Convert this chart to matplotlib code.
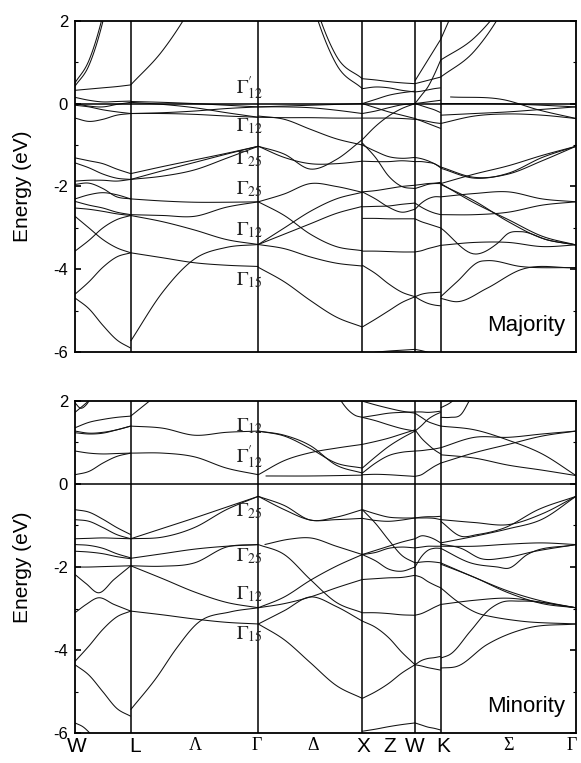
import numpy as np
import matplotlib
matplotlib.use("Agg")
import matplotlib.pyplot as plt
from matplotlib.ticker import MultipleLocator

plt.rcParams['font.family'] = ['Liberation Sans', 'DejaVu Sans']
plt.rcParams['mathtext.fontset'] = 'stix'
plt.rcParams['axes.unicode_minus'] = False

# ---------------- data ----------------
k_nodes = [0.0, 0.557, 1.833, 2.873, 3.400, 3.657, 5.010]
x_labels = ["W", "L", "Λ", "Γ", "Δ", "X", "Z", "W", "K", "Σ", "Γ"]
x_label_pos = [0.02, 0.60, 1.20, 1.817, 2.38, 2.88, 3.15, 3.40, 3.68, 4.33, 4.97]
greek = {"Λ", "Γ", "Δ", "Σ"}

# Each band: energies (eV) at evenly spaced points along a segment,
# or (fractions, energies) when read at uneven points.
maj_WL = [
    [0.50, 1.04, 2.13, 3.75, 5.90],
    [0.42, 0.92, 1.98, 3.60, 5.70],
    [0.32, 0.35, 0.38, 0.41, 0.45],
    [0.15, 0.08, 0.04, 0.05, 0.06],
    [0.00, -0.06, -0.08, -0.02, 0.03],
    [-0.04, -0.08, -0.15, -0.20, -0.24],
    [-0.35, -0.43, -0.38, -0.28, -0.24],
    [-1.31, -1.38, -1.45, -1.58, -1.69],
    [-1.43, -1.55, -1.70, -1.80, -1.83],
    [-1.87, -1.85, -1.85, -1.87, -1.83],
    [-1.95, -1.92, -2.05, -2.25, -2.30],
    [-2.30, -2.20, -2.15, -2.20, -2.30],
    [-2.36, -2.45, -2.52, -2.62, -2.68],
    [-2.52, -2.55, -2.60, -2.66, -2.70],
    [-2.72, -3.00, -3.28, -3.48, -3.60],
    [-3.56, -3.30, -3.00, -2.80, -2.70],
    [-4.60, -4.30, -3.95, -3.70, -3.60],
    [-4.69, -4.95, -5.35, -5.70, -5.90],
]
maj_LG = [
    [0.45, 1.28, 2.47, 4.05, 6.00],
    [0.05, 0.03, 0.00, -0.04, -0.08],
    [0.03, -0.02, -0.10, -0.22, -0.33],
    [-0.24, -0.24, -0.26, -0.30, -0.33],
    [-0.24, -0.22, -0.18, -0.12, -0.08],
    [-1.69, -1.52, -1.36, -1.20, -1.03],
    [-1.83, -1.62, -1.42, -1.22, -1.03],
    [-1.83, -1.75, -1.60, -1.32, -1.03],
    [-2.30, -2.35, -2.38, -2.38, -2.37],
    [-2.68, -2.70, -2.72, -2.50, -2.37],
    [-2.70, -2.85, -3.05, -3.28, -3.40],
    [-3.60, -3.72, -3.84, -3.90, -3.93],
    [-5.73, -4.55, -3.75, -3.47, -3.40],
]
maj_GX = [
    [9.40, 5.55, 2.80, 1.15, 0.60],
    [9.20, 5.30, 2.60, 0.95, 0.36],
    [-0.08, -0.06, -0.04, -0.02, 0.00],
    [-0.08, -0.08, -0.10, -0.16, -0.24],
    [-0.33, -0.34, -0.34, -0.35, -0.35],
    [-0.30, -0.38, -0.62, -0.85, -1.00],
    [-1.03, -1.22, -1.58, -1.35, -0.87],
    [-1.03, -1.30, -1.45, -1.45, -1.39],
    [-2.37, -2.18, -1.93, -2.00, -2.14],
    [-2.37, -2.70, -3.15, -3.45, -3.55],
    [-3.40, -3.15, -2.90, -2.65, -2.48],
    [-3.40, -3.00, -2.60, -2.30, -2.14],
    [-3.40, -3.50, -3.70, -3.85, -3.92],
    [-3.95, -4.30, -4.75, -5.15, -5.39],
]
maj_XW = [
    [0.60, 0.57, 0.53, 0.50, 0.48],
    [0.36, 0.40, 0.38, 0.32, 0.28],
    [0.00, 0.10, 0.20, 0.26, 0.30],
    [-0.24, -0.18, -0.10, -0.03, 0.00],
    [-0.87, -0.55, -0.30, -0.12, 0.00],
    [0.00, -0.10, -0.20, -0.28, -0.36],
    [-0.35, -0.35, -0.35, -0.36, -0.38],
    [-1.00, -1.15, -1.28, -1.32, -1.30],
    [-1.39, -1.40, -1.40, -1.38, -1.40],
    [-0.95, -1.30, -1.75, -2.00, -2.05],
    [-2.13, -2.10, -2.05, -2.00, -1.97],
    [-2.13, -2.30, -2.50, -2.62, -2.55],
    [-2.49, -2.48, -2.47, -2.43, -2.40],
    [-2.77, -2.77, -2.78, -2.78, -2.78],
    [-3.56, -3.56, -3.57, -3.58, -3.58],
    [-3.90, -4.10, -4.35, -4.55, -4.66],
    [-5.39, -5.20, -5.00, -4.80, -4.66],
    [-6.05, -6.00, -5.97, -5.95, -5.93],
]
maj_WK = [
    [0.48, 0.52, 0.56, 0.60, 0.64],
    [0.28, 0.30, 0.33, 0.36, 0.38],
    [0.55, 0.80, 1.05, 1.30, 1.55],
    [0.00, 0.20, 0.40, 0.70, 1.05],
    [0.00, 0.02, 0.04, 0.06, 0.08],
    [0.00, -0.05, -0.10, -0.15, -0.22],
    [-0.36, -0.42, -0.48, -0.54, -0.60],
    [-0.38, -0.40, -0.43, -0.46, -0.48],
    [-1.30, -1.33, -1.38, -1.45, -1.53],
    [-1.40, -1.40, -1.42, -1.45, -1.55],
    [-2.05, -2.00, -1.95, -1.93, -1.93],
    [-1.97, -1.95, -1.93, -1.92, -1.90],
    [-2.55, -2.40, -2.30, -2.25, -2.25],
    [-2.40, -2.50, -2.58, -2.64, -2.68],
    [-2.78, -2.85, -2.90, -2.95, -3.00],
    [-3.58, -3.55, -3.50, -3.46, -3.42],
    [-4.66, -4.75, -4.82, -4.86, -4.88],
    [-4.66, -4.60, -4.57, -4.56, -4.55],
    [-5.93, -5.96, -6.00, -6.05, -6.10],
]
maj_KG = [
    [1.55, 3.40, 5.30, 7.20, 9.10],
    [1.05, 1.59, 2.57, 3.98, 5.83],
    [0.64, 1.27, 2.50, 4.40, 6.90],
    ([0.07, 0.47, 0.72, 1.0], [0.16, 0.09, -0.15, -0.36]),
    [0.00, 0.00, -0.01, -0.04, -0.08],
    [-0.28, -0.24, -0.20, -0.14, -0.08],
    [-0.48, -0.30, -0.25, -0.28, -0.36],
    [-1.53, -1.78, -1.70, -1.38, -1.03],
    [-1.56, -1.80, -1.68, -1.30, -1.03],
    [-1.93, -1.70, -1.50, -1.25, -1.03],
    [-1.93, -2.40, -2.80, -3.20, -3.41],
    [-1.95, -2.35, -2.85, -3.25, -3.41],
    [-2.25, -2.17, -2.13, -2.30, -2.37],
    [-2.68, -2.68, -2.62, -2.45, -2.37],
    ([0, 0.26, 0.42, 0.50, 0.59, 0.80, 1.0], [-3.00, -3.63, -3.37, -3.13, -3.09, -3.30, -3.41]),
    [-3.42, -3.35, -3.35, -3.45, -3.41],
    ([0, 0.12, 0.29, 0.34, 0.59, 1.0], [-4.66, -4.30, -3.81, -3.79, -3.93, -3.96]),
    ([0, 0.12, 0.34, 0.59, 1.0], [-4.70, -4.78, -4.46, -4.01, -3.96]),
]

min_WL = [
    [1.72, 2.00, 2.30, 2.60, 2.90],
    ([0, 0.1, 0.2, 0.3], [1.95, 1.82, 1.90, 2.10]),
    [1.35, 1.48, 1.55, 1.60, 1.63],
    [1.27, 1.22, 1.24, 1.30, 1.39],
    [1.23, 1.20, 1.22, 1.30, 1.39],
    [0.79, 0.74, 0.72, 0.73, 0.74],
    [0.22, 0.30, 0.50, 0.66, 0.74],
    [-0.62, -0.68, -0.85, -1.05, -1.22],
    [-0.86, -0.90, -1.05, -1.22, -1.32],
    [-1.32, -1.31, -1.30, -1.31, -1.32],
    [-1.46, -1.48, -1.55, -1.68, -1.78],
    [-1.62, -1.64, -1.68, -1.75, -1.80],
    [-2.00, -2.00, -1.99, -1.98, -1.97],
    ([0, 0.2, 0.42, 0.7, 1.0], [-2.18, -2.40, -2.62, -2.30, -1.97]),
    ([0, 0.2, 0.42, 0.7, 1.0], [-3.10, -2.90, -2.74, -2.90, -3.06]),
    [-4.27, -3.90, -3.50, -3.20, -3.06],
    [-4.35, -4.60, -5.00, -5.40, -5.59],
    ([0, 0.15, 0.27, 0.4], [-5.75, -5.85, -6.00, -6.20]),
]
min_LG = [
    [1.63, 2.25, 2.90, 3.60, 4.30],
    [1.39, 1.34, 1.17, 1.24, 1.27],
    [0.74, 0.74, 0.65, 0.38, 0.22],
    [-1.32, -1.07, -0.82, -0.56, -0.30],
    [-1.32, -1.28, -1.05, -0.62, -0.30],
    [-1.79, -1.68, -1.57, -1.50, -1.46],
    [-1.97, -1.98, -1.90, -1.52, -1.46],
    [-1.97, -2.28, -2.60, -2.85, -2.98],
    [-3.06, -3.15, -3.25, -3.33, -3.37],
    ([0, 0.2, 0.36, 0.52, 0.78, 1.0], [-5.43, -4.67, -3.95, -3.36, -3.08, -2.98]),
]
min_GX = [
    ([0.7, 0.8, 0.93, 1.0], [2.45, 1.98, 1.65, 1.60]),
    [1.27, 1.15, 0.85, 0.50, 0.38],
    [1.27, 1.17, 0.92, 0.45, 0.26],
    [0.22, 0.56, 0.75, 0.86, 0.95],
    ([0.07, 0.5, 1.0], [0.19, 0.19, 0.21]),
    [-0.30, -0.52, -0.87, -0.80, -0.62],
    [-0.30, -0.62, -0.87, -0.86, -0.83],
    ([0.06, 0.3, 0.5, 0.75, 1.0], [-1.46, -1.33, -1.30, -1.50, -1.70]),
    [-1.46, -1.70, -2.30, -2.85, -3.10],
    [-2.98, -2.72, -2.32, -1.98, -1.70],
    [-2.98, -2.88, -2.72, -2.50, -2.30],
    [-3.37, -3.05, -2.72, -2.95, -3.30],
    [-3.37, -3.75, -4.30, -4.85, -5.16],
]
min_XW = [
    [1.99, 1.90, 1.82, 1.75, 1.70],
    [1.60, 1.65, 1.70, 1.72, 1.73],
    [1.60, 1.52, 1.42, 1.33, 1.27],
    [0.95, 1.02, 1.10, 1.20, 1.30],
    [0.38, 0.65, 0.90, 1.10, 1.27],
    [0.26, 0.50, 0.68, 0.76, 0.79],
    [0.22, 0.23, 0.22, 0.20, 0.18],
    [-0.62, -0.72, -0.80, -0.82, -0.82],
    [-0.83, -0.88, -0.90, -0.87, -0.82],
    [-0.62, -0.95, -1.35, -1.72, -1.90],
    [-1.70, -1.60, -1.50, -1.40, -1.32],
    [-1.70, -1.65, -1.55, -1.52, -1.54],
    [-1.70, -1.85, -2.05, -2.10, -2.00],
    [-2.30, -2.28, -2.26, -2.25, -2.20],
    [-3.10, -3.10, -3.12, -3.15, -3.16],
    [-3.30, -3.45, -3.70, -4.05, -4.35],
    [-5.16, -5.00, -4.80, -4.55, -4.35],
    [-5.95, -5.90, -5.84, -5.79, -5.75],
]
min_WK = [
    [1.73, 1.73, 1.72, 1.73, 1.75],
    [1.27, 1.40, 1.55, 1.65, 1.72],
    [1.70, 1.60, 1.50, 1.44, 1.39],
    [1.30, 1.10, 0.95, 0.82, 0.72],
    [0.79, 0.80, 0.82, 0.84, 0.87],
    [0.18, 0.22, 0.32, 0.42, 0.50],
    [-0.82, -0.82, -0.82, -0.83, -0.86],
    [-0.82, -0.80, -0.79, -0.79, -0.78],
    [-1.32, -1.25, -1.27, -1.33, -1.42],
    [-1.54, -1.52, -1.50, -1.50, -1.50],
    [-2.00, -1.75, -1.60, -1.55, -1.55],
    [-1.90, -1.88, -1.87, -1.88, -1.90],
    [-2.20, -2.25, -2.35, -2.43, -2.50],
    [-3.16, -3.12, -3.05, -2.97, -2.90],
    [-4.35, -4.25, -4.20, -4.18, -4.15],
    [-4.35, -4.38, -4.42, -4.45, -4.48],
    [-5.75, -5.80, -5.85, -5.88, -5.92],
]
min_KG = [
    ([0, 0.07, 0.11], [1.83, 1.95, 2.05]),
    ([0, 0.07, 0.15, 0.22], [1.60, 1.60, 1.67, 2.05]),
    [1.39, 1.30, 1.05, 0.72, 0.20],
    [0.87, 1.12, 1.12, 1.20, 1.27],
    [0.50, 0.75, 0.95, 1.15, 1.27],
    [0.70, 0.62, 0.45, 0.33, 0.20],
    [-0.86, -0.93, -0.98, -0.72, -0.30],
    ([0, 0.15, 0.27, 0.47, 0.72, 1.0], [-0.90, -1.26, -1.22, -1.06, -0.62, -0.30]),
    [-1.42, -1.26, -1.08, -0.85, -0.30],
    ([0, 0.15, 0.3, 0.47, 0.7, 1.0], [-1.45, -1.55, -1.80, -1.78, -1.62, -1.46]),
    ([0, 0.22, 0.42, 0.5, 0.64, 1.0], [-1.55, -1.90, -2.00, -2.03, -1.70, -1.46]),
    [-1.50, -1.50, -1.45, -1.42, -1.46],
    [-1.90, -2.25, -2.58, -2.82, -2.98],
    [-1.93, -2.25, -2.62, -2.88, -2.98],
    ([0, 0.12, 0.3, 0.34, 0.59, 1.0], [-2.50, -2.82, -3.14, -3.17, -3.30, -3.37]),
    [-2.90, -2.80, -2.75, -2.85, -2.98],
    ([0, 0.07, 0.22, 0.36, 0.44, 0.59, 1.0], [-4.19, -4.10, -3.54, -3.02, -2.86, -2.82, -2.98]),
    ([0, 0.12, 0.34, 0.64, 1.0], [-4.43, -4.39, -3.87, -3.47, -3.37]),
]

maj_gamma_labels = [r"$\Gamma^{\prime}_{12}$", r"$\Gamma_{12}$", r"$\Gamma_{25}$",
                    r"$\Gamma_{25}$", r"$\Gamma_{12}$", r"$\Gamma_{15}$"]
maj_gamma_E = [0.23, -0.68, -1.46, -2.18, -3.17, -4.38]
min_gamma_labels = [r"$\Gamma_{12}$", r"$\Gamma^{\prime}_{12}$", r"$\Gamma_{25}$",
                    r"$\Gamma_{25}$", r"$\Gamma_{12}$", r"$\Gamma_{15}$"]
min_gamma_E = [1.27, 0.50, -0.78, -1.86, -2.78, -3.74]

# ---------------- drawing ----------------
def hermite(ts, es, n=14):
    ts = np.asarray(ts, float)
    es = np.asarray(es, float)
    m = np.gradient(es, ts)
    tt, ee = [], []
    for i in range(len(ts) - 1):
        h = ts[i + 1] - ts[i]
        s = np.linspace(0, 1, n)
        h00 = 2 * s**3 - 3 * s**2 + 1
        h10 = s**3 - 2 * s**2 + s
        h01 = -2 * s**3 + 3 * s**2
        h11 = s**3 - s**2
        tt.append(ts[i] + s * h)
        ee.append(h00 * es[i] + h10 * h * m[i] + h01 * es[i + 1] + h11 * h * m[i + 1])
    return np.concatenate(tt), np.concatenate(ee)


def draw_panel(ax, segments, text, glabels, gE):
    for i, bands in enumerate(segments):
        k0, k1 = k_nodes[i], k_nodes[i + 1]
        for b in bands:
            if isinstance(b, tuple):
                ts, es = b
            else:
                es = b
                ts = np.linspace(0, 1, len(es))
            tt, ee = hermite(ts, es)
            ax.plot(k0 + tt * (k1 - k0), ee, color="#111111", lw=0.75, solid_capstyle="butt")
    ax.axhline(0, color="k", lw=1.1)
    for k in k_nodes[1:-1]:
        ax.axvline(k, color="k", lw=1.1)
    ax.set_xlim(k_nodes[0], k_nodes[-1])
    ax.set_ylim(-6, 2)
    ax.yaxis.set_major_locator(MultipleLocator(2))
    ax.yaxis.set_minor_locator(MultipleLocator(1))
    ax.tick_params(axis="y", which="both", direction="in", right=True, labelsize=12, pad=5)
    ax.tick_params(axis="y", which="major", length=4, width=1.2)
    ax.tick_params(axis="y", which="minor", length=2, width=0.8)
    ax.set_ylabel("Energy (eV)", fontsize=15)
    ax.yaxis.set_label_coords(-0.085, 0.5)
    for sp in ax.spines.values():
        sp.set_linewidth(1.3)
    ax.text(0.978, 0.065, text, transform=ax.transAxes, ha="right", va="baseline", fontsize=16)
    for lab, e in zip(glabels, gE):
        ax.text(1.61, e, lab, fontsize=14, ha="left", va="baseline", color="#222222")


fig = plt.figure(figsize=(5.81, 7.63), dpi=100)
ax1 = fig.add_axes([0.1291, 0.5383, 0.8623, 0.4346])
ax2 = fig.add_axes([0.1291, 0.0389, 0.8623, 0.4359])

draw_panel(ax1, [maj_WL, maj_LG, maj_GX, maj_XW, maj_WK, maj_KG], "Majority",
           maj_gamma_labels, maj_gamma_E)
draw_panel(ax2, [min_WL, min_LG, min_GX, min_XW, min_WK, min_KG], "Minority",
           min_gamma_labels, min_gamma_E)

ax1.set_xticks([])
ax2.set_xticks(x_label_pos)
ax2.set_xticklabels(x_labels)
ax2.tick_params(axis="x", length=0, pad=3)
for lab in ax2.get_xticklabels():
    if lab.get_text() in greek:
        lab.set_fontfamily(["Liberation Serif", "DejaVu Serif"])
        lab.set_fontsize(13)
    else:
        lab.set_fontsize(15)

fig.savefig("out.png", dpi=100)
